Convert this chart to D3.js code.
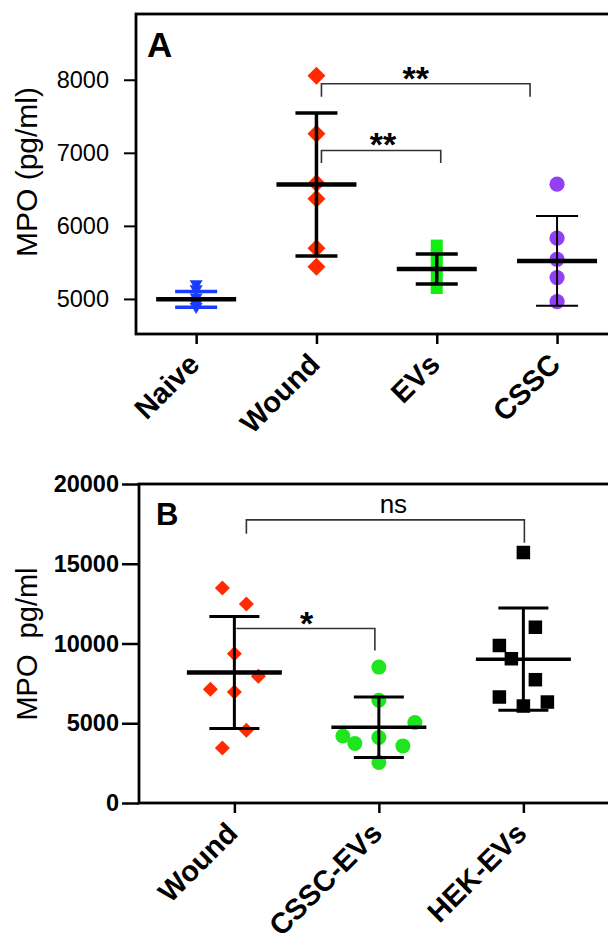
<!DOCTYPE html>
<html>
<head>
<meta charset="utf-8">
<script src="https://cdn.jsdelivr.net/npm/d3@7"></script>
<style>
    body { margin: 0; background: #fff; }
    svg text { font-family: "Liberation Sans", Arial, sans-serif; fill: #000; }
</style>
</head>
<body>
<svg id="chart" width="608" height="940"></svg>
<script>
// ---- data ----
var catsA = ['Naive', 'Wound', 'EVs', 'CSSC'];
var naiveA = [5180, 5110, 5000, 4910, 4870];
var woundA = [8055, 7260, 6585, 6370, 5694, 5442];
var evsA = [5730, 5590, 5450, 5300, 5150];
var csscA = [6571, 5831, 5543, 5292, 4963];
var meanA = [4995, 6566, 5411, 5520];
var sdA = [108, 978, 205, 615];
var ticksA = [5000, 6000, 7000, 8000];

var catsB = ['Wound', 'CSSC-EVs', 'HEK-EVs'];
var woundB = [13480, 12480, 9360, 7940, 7125, 6955, 4560, 3455];
var csscEvsB = [8520, 6440, 5045, 4205, 3730, 4105, 3580, 2545];
var hekEvsB = [15705, 11020, 9875, 9045, 7730, 6645, 6330, 6080];
var meanB = [8187, 4750, 9019];
var sdB = [3509, 1897, 3207];
var ticksB = [0, 5000, 10000, 15000, 20000];

var bracketsA = [
    {from: 'Wound', to: 'CSSC', y: 7945, leg1: 7767, leg2: 7767, label: '**'},
    {from: 'Wound', to: 'EVs', y: 7032, leg1: 6859, leg2: 6859, label: '**'}
];
var bracketsB = [
    {from: 'Wound', to: 'HEK-EVs', y: 17750, leg1: 16875, leg2: 16312, label: 'ns'},
    {from: 'Wound', to: 'CSSC-EVs', y: 10938, leg1: 10938, leg2: 9563, label: '*'}
];

// ---- layout (not data) ----
var jitterB = [[-1, 1, 0, 2, -2, 0, 1, -1], [0, 0, 3, -3, -2, 0, 2, 0], [0, 1, -2, -1, 1, -2, 2, 0]];
// [left end dx, right end dx, label dx]
var bracketDxA = [[5, -27, -10], [5, 4, 2]];
var bracketDxB = [[12, 1, 8], [2, -4, 1]];

var svg = d3.select('#chart');

function diamondPath(r) {
    return 'M0,' + (-r) + 'L' + r + ',0L0,' + r + 'L' + (-r) + ',0Z';
}
function triDownPath(w, h) {
    return 'M' + (-w / 2) + ',' + (-h / 2) + 'L' + (w / 2) + ',' + (-h / 2) + 'L0,' + (h / 2) + 'Z';
}

function drawPoints(g, x, y, cat, vals, jit, slot, shape, color, size) {
    vals.forEach(function(v, i) {
        var cx = x(cat) + (jit ? jit[i] * slot : 0), cy = y(v);
        if (shape == 'circle') {
            g.append('circle').attr('cx', cx).attr('cy', cy).attr('r', size).attr('fill', color);
        } else if (shape == 'square') {
            g.append('rect').attr('x', cx - size / 2).attr('y', cy - size / 2)
                .attr('width', size).attr('height', size).attr('fill', color);
        } else if (shape == 'diamond') {
            g.append('path').attr('d', diamondPath(size)).attr('transform', 'translate(' + cx + ',' + cy + ')').attr('fill', color);
        } else {
            g.append('path').attr('d', triDownPath(size, size * 0.85)).attr('transform', 'translate(' + cx + ',' + cy + ')').attr('fill', color);
        }
    });
}

function drawErrorBar(g, cx, y, mean, sd, st) {
    var col = st.barColor || '#000';
    g.append('line').attr('x1', cx).attr('x2', cx).attr('y1', y(mean + sd)).attr('y2', y(mean - sd))
        .attr('stroke', col).attr('stroke-width', st.barW);
    [mean + sd, mean - sd].forEach(function(v) {
        g.append('line').attr('x1', cx - st.capHalf).attr('x2', cx + st.capHalf).attr('y1', y(v)).attr('y2', y(v))
            .attr('stroke', col).attr('stroke-width', st.barW);
    });
    g.append('line').attr('x1', cx - st.meanHalf).attr('x2', cx + st.meanHalf).attr('y1', y(mean)).attr('y2', y(mean))
        .attr('stroke', '#000').attr('stroke-width', st.meanW);
}

function drawBrackets(g, x, y, list, dxs) {
    list.forEach(function(b, i) {
        var x1 = x(b.from) + dxs[i][0], x2 = x(b.to) + dxs[i][1];
        var path = d3.path();
        path.moveTo(x1, y(b.leg1));
        path.lineTo(x1, y(b.y));
        path.lineTo(x2, y(b.y));
        path.lineTo(x2, y(b.leg2));
        g.append('path').attr('d', path.toString()).attr('fill', 'none')
            .attr('stroke', '#333').attr('stroke-width', 1.6);
        var star = b.label.indexOf('*') > -1;
        g.append('text').attr('x', (x1 + x2) / 2 + dxs[i][2]).attr('y', y(b.y) + (star ? 6 : -7))
            .attr('text-anchor', 'middle')
            .style('font-size', star ? '34px' : '26px')
            .style('font-weight', star ? 'bold' : 'normal')
            .text(b.label);
    });
}

function drawFrame(g, left, top, bottom) {
    g.append('rect').attr('x', left).attr('y', top).attr('width', 700).attr('height', bottom - top)
        .attr('fill', 'none').attr('stroke', '#000').attr('stroke-width', 2.8);
}

function xLabels(g, x, cats, bottom) {
    cats.forEach(function(c) {
        g.append('text')
            .attr('transform', 'translate(' + (x(c) + 5) + ',' + (bottom + 32) + ') rotate(-45)')
            .attr('text-anchor', 'end')
            .style('font-size', '29px').style('font-weight', 'bold')
            .text(c);
    });
}

// ================= Panel A =================
var aLeft = 136, aTop = 14, aBottom = 334;
var xA = d3.scalePoint().domain(catsA).range([aLeft, aLeft + 4 * 120.3]).padding(0.5);
var yA = d3.scaleLinear().domain([4520, 8900]).range([aBottom, aTop]);
var gA = svg.append('g');

var axA = gA.append('g').attr('transform', 'translate(' + aLeft + ',0)')
    .call(d3.axisLeft(yA).tickValues(ticksA).tickSize(12).tickPadding(15).tickFormat(d3.format('d')));
axA.select('.domain').remove();
axA.selectAll('line').attr('stroke', '#000').attr('stroke-width', 2);
axA.selectAll('text').style('font-size', '23.5px').style('font-family', '"Liberation Sans", Arial, sans-serif');

var axAx = gA.append('g').attr('transform', 'translate(0,' + aBottom + ')')
    .call(d3.axisBottom(xA).tickSize(10).tickFormat(''));
axAx.select('.domain').remove();
axAx.selectAll('line').attr('stroke', '#000').attr('stroke-width', 2.5);
xLabels(gA, xA, catsA, aBottom);

drawFrame(gA, aLeft, aTop, aBottom);

var ptsA = gA.append('g');
drawPoints(ptsA, xA, yA, 'Naive', naiveA, null, 0, 'tri', '#1a3cff', 13);
drawPoints(ptsA, xA, yA, 'Wound', woundA, null, 0, 'diamond', '#ff2a00', 9);
drawPoints(ptsA, xA, yA, 'EVs', evsA, null, 0, 'square', '#11ee11', 12);
drawPoints(ptsA, xA, yA, 'CSSC', csscA, null, 0, 'circle', '#9340f5', 7.6);

var stylesA = [
    {meanHalf: 40, capHalf: 21, meanW: 4.5, barW: 3.5, barColor: '#1a3cff'},
    {meanHalf: 40, capHalf: 21, meanW: 4.5, barW: 3.5},
    {meanHalf: 40, capHalf: 21, meanW: 4.5, barW: 3.5},
    {meanHalf: 40, capHalf: 21, meanW: 4.5, barW: 2}
];
catsA.forEach(function(c, i) {
    drawErrorBar(gA, xA(c), yA, meanA[i], sdA[i], stylesA[i]);
});
drawBrackets(gA, xA, yA, bracketsA, bracketDxA);

gA.append('text').attr('x', 147).attr('y', 57).style('font-size', '35px').style('font-weight', 'bold').text('A');
gA.append('text').attr('transform', 'translate(37,172) rotate(-90)').attr('text-anchor', 'middle')
    .style('font-size', '30px').text('MPO (pg/ml)');

// ================= Panel B =================
var bLeft = 139, bTop = 484, bBottom = 803;
var xB = d3.scalePoint().domain(catsB).range([bLeft, bLeft + 144.5 * 3.32]).padding(0.66);
var yB = d3.scaleLinear().domain([0, 20000]).range([bBottom, bTop]);
var gB = svg.append('g');

var axB = gB.append('g').attr('transform', 'translate(' + bLeft + ',0)')
    .call(d3.axisLeft(yB).tickValues(ticksB).tickSize(17).tickPadding(3).tickFormat(d3.format('d')));
axB.select('.domain').remove();
axB.selectAll('line').attr('stroke', '#000').attr('stroke-width', 2.5);
axB.selectAll('text').style('font-size', '23.5px').style('font-weight', 'bold')
    .style('font-family', '"Liberation Sans", Arial, sans-serif');

var axBx = gB.append('g').attr('transform', 'translate(0,' + bBottom + ')')
    .call(d3.axisBottom(xB).tickSize(10).tickFormat(''));
axBx.select('.domain').remove();
axBx.selectAll('line').attr('stroke', '#000').attr('stroke-width', 2.5);
xLabels(gB, xB, catsB, bBottom);

drawFrame(gB, bLeft, bTop, bBottom);

var ptsB = gB.append('g');
drawPoints(ptsB, xB, yB, 'Wound', woundB, jitterB[0], 12, 'diamond', '#ff2a00', 7.5);
drawPoints(ptsB, xB, yB, 'CSSC-EVs', csscEvsB, jitterB[1], 12, 'circle', '#1fe51f', 7.5);
drawPoints(ptsB, xB, yB, 'HEK-EVs', hekEvsB, jitterB[2], 12, 'square', '#000', 13.5);

var stylesB = [
    {meanHalf: 47.5, capHalf: 25, meanW: 4.5, barW: 3},
    {meanHalf: 47.5, capHalf: 25, meanW: 3.5, barW: 3},
    {meanHalf: 47.5, capHalf: 25, meanW: 3.5, barW: 3}
];
catsB.forEach(function(c, i) {
    drawErrorBar(gB, xB(c), yB, meanB[i], sdB[i], stylesB[i]);
});
drawBrackets(gB, xB, yB, bracketsB, bracketDxB);

gB.append('text').attr('x', 156).attr('y', 525).style('font-size', '31px').style('font-weight', 'bold').text('B');
gB.append('text').attr('transform', 'translate(37,644) rotate(-90)').attr('text-anchor', 'middle')
    .style('font-size', '29px').style('white-space', 'pre').text('MPO  pg/ml');
</script>
</body>
</html>
